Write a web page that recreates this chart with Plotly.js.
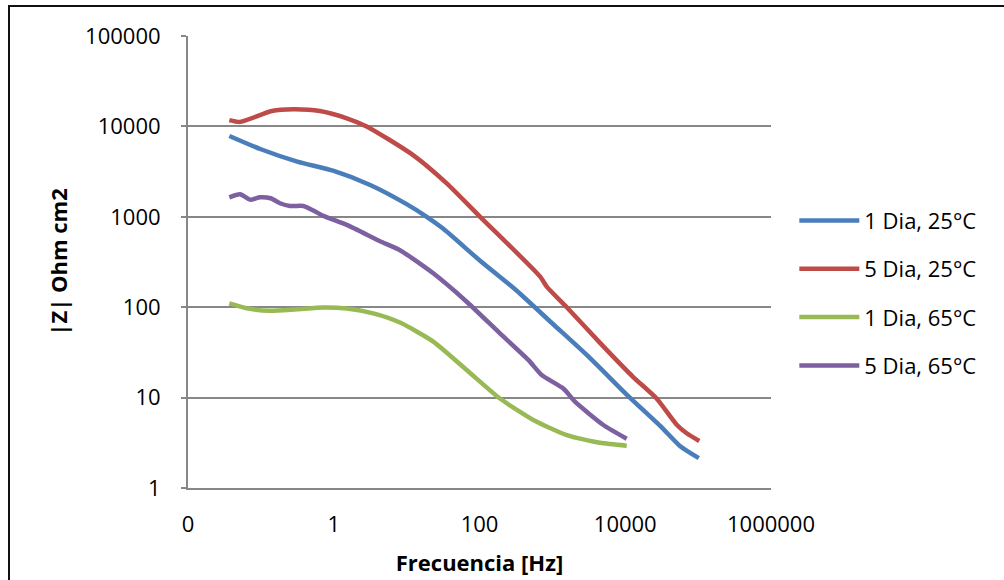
<!DOCTYPE html>
<html>
<head>
<meta charset="utf-8">
<script src="https://cdn.plot.ly/plotly-3.0.1.min.js"></script>
<style>
  html, body { margin: 0; padding: 0; background: #fff; }
  #chart { width: 1004px; height: 580px; }
  #frame { position: absolute; left: 8px; top: 5px; width: 994px; height: 600px;
           border-top: 2px solid #111; border-left: 2px solid #111; border-right: 1px solid #999;
           pointer-events: none; }
</style>
</head>
<body>
<div id="chart"></div>
<div id="frame"></div>
<script>
// Series names
var seriesNames = ["1 Dia, 25°C", "5 Dia, 25°C", "1 Dia, 65°C", "5 Dia, 65°C"];
var seriesColors = ["#4A7EBB", "#BE4B48", "#98B954", "#7D60A0"];

// 1 Dia, 25°C
var freq1 = [0.0369, 0.1, 0.316, 1, 3.16, 10, 18.9, 31.6, 100, 316, 1000, 3162, 10470, 31620, 56230, 102300];
var z1    = [7834, 5585, 4074, 3214, 2249, 1380, 1000, 741, 331, 155, 66, 28.2, 10.8, 4.68, 2.92, 2.14];

// 5 Dia, 25°C
var freq2 = [0.0369, 0.0518, 0.141, 0.279, 0.647, 1.51, 2.83, 12.4, 35.5, 102, 676, 836, 1574, 4571, 12760, 26920, 50820, 69660, 103750];
var z2    = [11750, 11220, 14790, 15490, 14790, 12300, 10000, 4786, 2344, 1000, 219, 169, 100, 39.8, 17.0, 9.77, 5.01, 4.03, 3.31];

// 1 Dia, 65°C
var freq3 = [0.0369, 0.0638, 0.133, 0.31, 0.719, 1.51, 3.49, 8.11, 23.2, 66.7, 191, 547, 1574, 4508, 10470];
var z3    = [110, 97.3, 91.2, 94.8, 99, 96.5, 85.5, 67.6, 41.7, 20.2, 9.77, 5.65, 3.85, 3.16, 2.94];

// 5 Dia, 65°C
var freq4 = [0.0369, 0.0518, 0.071, 0.0973, 0.136, 0.183, 0.251, 0.382, 0.524, 0.719, 1.51, 4.32, 8.11, 23.2, 66.7, 191, 468, 713, 1413, 2042, 5012, 10470];
var z4    = [1644, 1778, 1549, 1644, 1603, 1413, 1318, 1318, 1175, 1023, 813, 537, 427, 237, 115, 51.3, 26.1, 17.8, 12.6, 9.02, 4.98, 3.51];

// Axis ticks
var xTickVals = [0.01, 1, 100, 10000, 1000000];
var xTickText = ["0", "1", "100", "10000", "1000000"];
var yTickVals = [1, 10, 100, 1000, 10000, 100000];
var yTickText = ["1", "10", "100", "1000", "10000", "100000"];

var xs = [freq1, freq2, freq3, freq4];
var ys = [z1, z2, z3, z4];

var traces = seriesNames.map(function (name, i) {
  return {
    type: "scatter",
    mode: "lines",
    name: name,
    legendgroup: "g" + i,
    x: xs[i],
    y: ys[i],
    line: { color: seriesColors[i], width: 4.5, shape: "spline", smoothing: 0.6 }
  };
});

var FONT = "'Open Sans', 'Noto Sans', sans-serif";

var layout = {
  width: 1004,
  height: 580,
  margin: { l: 188, r: 233, t: 36, b: 92, pad: 0 },
  paper_bgcolor: "#ffffff",
  plot_bgcolor: "#ffffff",
  font: { family: FONT, size: 22, color: "#000" },
  showlegend: true,
  legend: {
    x: 1.04, xanchor: "left",
    y: 0.431, yanchor: "middle",
    font: { family: FONT, size: 22, color: "#000" },
    traceorder: "grouped",
    tracegroupgap: 16.7,
    itemwidth: 60,
    bgcolor: "rgba(0,0,0,0)"
  },
  xaxis: {
    type: "log",
    range: [-2, 6],
    tickvals: xTickVals,
    ticktext: xTickText,
    ticks: "",
    showgrid: false,
    zeroline: false,
    showline: true,
    linecolor: "#878787",
    linewidth: 2,
    ticklabelstandoff: 16,
    tickfont: { family: FONT, size: 22, color: "#000" },
    title: { text: "<b>Frecuencia [Hz]</b>", font: { family: FONT, size: 22, color: "#000" }, standoff: 18 }
  },
  yaxis: {
    type: "log",
    range: [0, 5],
    tickvals: yTickVals,
    ticktext: yTickText,
    ticks: "outside",
    ticklen: 5,
    tickcolor: "#878787",
    tickwidth: 2,
    showgrid: true,
    gridcolor: "#878787",
    gridwidth: 2,
    zeroline: false,
    showline: true,
    linecolor: "#878787",
    linewidth: 2,
    ticklabelstandoff: 16,
    tickfont: { family: FONT, size: 22, color: "#000" },
    title: { text: "<b>|Z| Ohm cm2</b>", font: { family: FONT, size: 22, color: "#000" }, standoff: 11 }
  }
};

Plotly.newPlot("chart", traces, layout, { displayModeBar: false, staticPlot: true });
</script>
</body>
</html>
